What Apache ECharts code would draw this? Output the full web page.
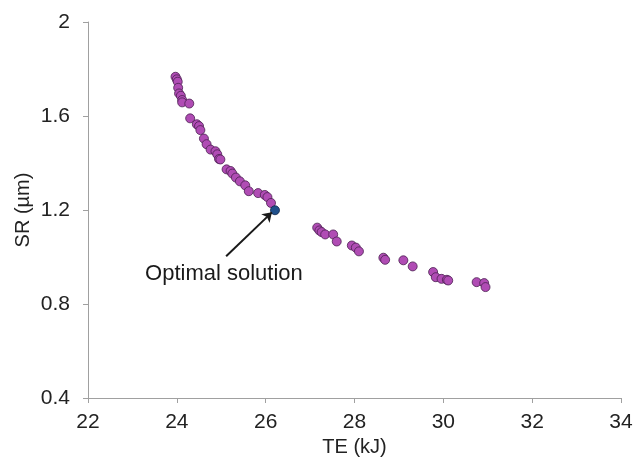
<!DOCTYPE html>
<html>
<head>
<meta charset="utf-8">
<script src="https://cdn.jsdelivr.net/npm/echarts@6/dist/echarts.min.js"></script>
<style>
  html, body { margin: 0; padding: 0; background: #fff; }
  #main { width: 643px; height: 463px; }
</style>
</head>
<body>
<div id="main"></div>
<script>
// Pareto front, TE (kJ) vs SR (um)
var teVals = [23.97, 24.00, 24.02, 24.03, 24.05, 24.09, 24.12, 24.12, 24.28, 24.30,
              24.45, 24.50, 24.53, 24.61, 24.67, 24.76, 24.87, 24.91, 24.95, 24.98,
              25.12, 25.21, 25.25, 25.33, 25.42, 25.54, 25.62, 25.83, 25.98, 26.04, 26.12,
              27.16, 27.21, 27.26, 27.34, 27.52, 27.60, 27.94, 28.03, 28.10,
              28.65, 28.69, 29.10, 29.31, 29.77, 29.83, 29.96, 30.08, 30.11,
              30.75, 30.92, 30.95];
var srVals = [1.767, 1.756, 1.746, 1.720, 1.696, 1.686, 1.668, 1.658, 1.653, 1.590,
              1.565, 1.557, 1.540, 1.504, 1.480, 1.457, 1.450, 1.437, 1.417, 1.415,
              1.373, 1.366, 1.355, 1.338, 1.322, 1.305, 1.280, 1.272, 1.264, 1.255, 1.230,
              1.125, 1.113, 1.106, 1.096, 1.096, 1.066, 1.049, 1.040, 1.024,
              0.997, 0.988, 0.986, 0.960, 0.936, 0.914, 0.907, 0.903, 0.900,
              0.893, 0.889, 0.872];
var optimal = [26.21, 1.199];
var xTicks = [22, 24, 26, 28, 30, 32, 34];
var yTicks = [0.4, 0.8, 1.2, 1.6, 2];

var pts = [];
for (var i = 0; i < teVals.length; i++) {
    pts.push([teVals[i], srVals[i]]);
}

var myChart = echarts.init(document.getElementById('main'));
var font = 'Liberation Sans, Arial, sans-serif';
var axisCol = '#a0a0a0';

var option = {
    animation: false,
    textStyle: { fontFamily: font },
    grid: { left: 88, right: 22, top: 22, bottom: 65 },
    xAxis: {
        type: 'value',
        min: xTicks[0], max: xTicks[xTicks.length - 1], interval: 2,
        name: 'TE (kJ)', nameLocation: 'middle', nameGap: 39,
        nameTextStyle: { fontSize: 20, color: '#222', fontFamily: font },
        axisLine: { show: true, lineStyle: { color: axisCol, width: 1 } },
        axisTick: { show: true, length: 5, lineStyle: { color: axisCol } },
        axisLabel: { fontSize: 21, color: '#222', margin: 14, fontFamily: font },
        splitLine: { show: false }
    },
    yAxis: {
        type: 'value',
        min: yTicks[0], max: yTicks[yTicks.length - 1], interval: 0.4,
        name: 'SR (µm)', nameLocation: 'middle', nameGap: 55,
        nameMoveOverlap: false,
        nameTextStyle: { fontSize: 20, color: '#222', fontFamily: font },
        axisLine: { show: true, lineStyle: { color: axisCol, width: 1 } },
        axisTick: { show: true, length: 5, lineStyle: { color: axisCol } },
        axisLabel: { fontSize: 21, color: '#222', margin: 18, fontFamily: font,
            formatter: function (v) { return String(Math.round(v * 10) / 10); } },
        splitLine: { show: false }
    },
    series: [{
        type: 'scatter',
        data: pts,
        symbolSize: 9,
        itemStyle: { color: '#b04cb4', borderColor: '#4a2050', borderWidth: 0.8, opacity: 1 }
    }, {
        type: 'scatter',
        data: [optimal],
        symbolSize: 9,
        itemStyle: { color: '#1f4f8a', borderColor: '#14284a', borderWidth: 0.8, opacity: 1 },
        markLine: {
            silent: true,
            symbol: ['none', 'arrow'],
            symbolSize: 9,
            label: { show: false },
            lineStyle: { color: '#1a1a1a', width: 2, type: 'solid' },
            data: [[{ coord: [25.11, 1.003] }, { coord: [26.14, 1.19] }]]
        },
        markPoint: {
            silent: true,
            symbol: 'circle',
            symbolSize: 0,
            label: { show: true, position: 'inside', formatter: 'Optimal solution',
                fontSize: 22, color: '#1a1a1a', fontFamily: font },
            data: [{ coord: [25.06, 0.930] }]
        }
    }]
};
myChart.setOption(option);
</script>
</body>
</html>
